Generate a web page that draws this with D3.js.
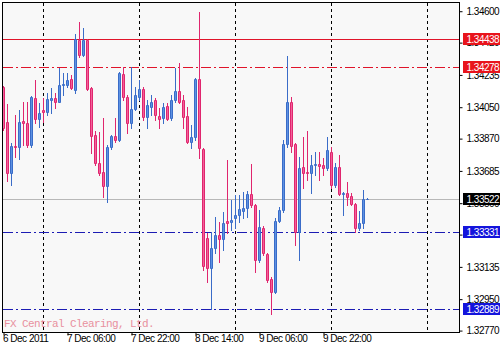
<!doctype html>
<html>
<head>
<meta charset="utf-8">
<script src="https://cdnjs.cloudflare.com/ajax/libs/d3/7.8.5/d3.min.js"></script>
<style>
body{margin:0;background:#fff;}
svg{display:block;}
.axis text{font-family:"Liberation Sans",Arial,sans-serif;font-size:10px;letter-spacing:-0.5px;fill:#000;}
.axis line{stroke:#000;}
.tag text{font-family:"Liberation Sans",Arial,sans-serif;font-size:10px;letter-spacing:-0.5px;fill:#fff;}
line.res, line.sup, line.bid{shape-rendering:crispEdges;}
</style>
</head>
<body>
<svg id="chart" width="500" height="350"></svg>
<script>
// EURUSD-ish H1 bars
var opens = [1.34163,1.33962,1.33670,1.33825,1.33819,1.33968,1.33957,1.33831,1.34100,1.33980,
  1.34031,1.34020,1.34089,1.34100,1.34077,1.34174,1.34174,1.34209,1.34146,1.34432,
  1.34346,1.34432,1.34157,1.33888,1.33728,1.33676,1.33596,1.33819,1.33882,1.33859,
  1.34238,1.34106,1.33957,1.34037,1.34106,1.34152,1.33991,1.34048,1.34089,1.33997,
  1.33985,1.34054,1.33985,1.34089,1.34140,1.34089,1.33997,1.33848,1.33877,1.34209,
  1.33808,1.33298,1.33126,1.33241,1.33315,1.33292,1.33395,1.33389,1.33412,1.33430,
  1.33453,1.33470,1.33550,1.33487,1.33172,1.33355,1.33206,1.33063,1.32988,1.33395,
  1.33458,1.33836,1.34077,1.33836,1.33332,1.33705,1.33676,1.33670,1.33716,1.33722,
  1.33716,1.33699,1.33791,1.33601,1.33705,1.33550,1.33556,1.33538,1.33493,1.33355,
  1.33384,1.33522];
var highs = [1.34169,1.34066,1.33842,1.34003,1.34031,1.34077,1.34077,1.34111,1.34203,1.34071,
  1.34100,1.34129,1.34157,1.34129,1.34272,1.34243,1.34243,1.34232,1.34467,1.34535,
  1.34501,1.34438,1.34163,1.33911,1.33905,1.33985,1.33831,1.33888,1.33985,1.34249,
  1.34278,1.34117,1.34278,1.34163,1.34203,1.34163,1.34089,1.34117,1.34100,1.34043,
  1.34071,1.34071,1.34117,1.34272,1.34300,1.34117,1.34048,1.33945,1.34215,1.34593,
  1.33814,1.33326,1.33332,1.33418,1.33389,1.33447,1.33745,1.33516,1.33544,1.33544,
  1.33561,1.33567,1.33722,1.33493,1.33458,1.33367,1.33212,1.33074,1.33412,1.33475,
  1.33859,1.34341,1.34106,1.33842,1.33762,1.33877,1.33911,1.33773,1.33791,1.33791,
  1.33756,1.33877,1.33819,1.33728,1.33773,1.33561,1.33619,1.33556,1.33498,1.33453,
  1.33573,1.33527];
var lows = [1.33917,1.33624,1.33601,1.33762,1.33750,1.33831,1.33819,1.33819,1.33957,1.33934,
  1.33962,1.34003,1.34014,1.34043,1.34077,1.34117,1.34163,1.34152,1.34129,1.34335,
  1.34341,1.34146,1.33785,1.33716,1.33659,1.33533,1.33504,1.33808,1.33848,1.33854,
  1.34089,1.33899,1.33928,1.34031,1.34089,1.33974,1.33928,1.34003,1.33974,1.33928,
  1.33957,1.33974,1.33974,1.34077,1.34071,1.33928,1.33842,1.33814,1.33859,1.33756,
  1.33114,1.33046,1.32889,1.33212,1.33160,1.33229,1.33326,1.33344,1.33355,1.33389,
  1.33412,1.33418,1.33475,1.33103,1.33160,1.33200,1.33046,1.32860,1.32983,1.33389,
  1.33447,1.33819,1.33791,1.33258,1.33172,1.33584,1.33630,1.33556,1.33659,1.33630,
  1.33659,1.33687,1.33584,1.33590,1.33544,1.33430,1.33487,1.33487,1.33332,1.33344,
  1.33355,1.33521];
var closes = [1.33928,1.33670,1.33825,1.33819,1.33962,1.33957,1.33831,1.34106,1.33980,1.34014,
  1.34020,1.34094,1.34100,1.34077,1.34174,1.34180,1.34203,1.34157,1.34438,1.34346,
  1.34432,1.34152,1.33882,1.33728,1.33670,1.33596,1.33819,1.33882,1.33859,1.34243,
  1.34106,1.33957,1.34037,1.34117,1.34152,1.33991,1.34060,1.34077,1.34003,1.33980,
  1.34048,1.33980,1.34089,1.34140,1.34077,1.33991,1.33848,1.33877,1.34209,1.33814,
  1.33137,1.33126,1.33241,1.33315,1.33292,1.33384,1.33384,1.33401,1.33430,1.33464,
  1.33470,1.33550,1.33487,1.33172,1.33361,1.33212,1.33057,1.32988,1.33395,1.33458,
  1.33836,1.34077,1.33825,1.33332,1.33699,1.33670,1.33670,1.33716,1.33722,1.33710,
  1.33699,1.33802,1.33601,1.33705,1.33550,1.33556,1.33533,1.33493,1.33355,1.33384,
  1.33521,1.33522];

var timeLabels = ["6 Dec 2011", "7 Dec 06:00", "7 Dec 22:00", "8 Dec 14:00", "9 Dec 06:00", "9 Dec 22:00"];
var timeLabelBars = [0, 16, 32, 48, 64, 80];
var separatorBars = [10, 34, 58, 82, 106];
var priceTicks = [1.34600, 1.34420, 1.34235, 1.34050, 1.33870, 1.33685, 1.33500, 1.33320, 1.33135, 1.32950, 1.32770];

var resistLevels = [1.34438, 1.34278];
var supportLevels = [1.33331, 1.32889];
var bidPrice = 1.33522;

var plotL = 2, plotT = 2, plotR = 459, plotB = 332;
var svg = d3.select("#chart");

var x = d3.scaleLinear().domain([0, 114]).range([plotL + 1.5, plotR + 0.5]);
var y = d3.scaleLinear().domain([1.32759, 1.34650]).range([plotB, plotT]);
function py(v){ return Math.round(y(v)) + 0.5; }

var bars = opens.map(function(o, i){
  return {i: i, o: o, h: highs[i], l: lows[i], c: closes[i]};
});

// plot area
svg.append("rect")
  .attr("x", plotL).attr("y", plotT)
  .attr("width", plotR - plotL).attr("height", plotB - plotT)
  .attr("fill", "#f8f8f8");

// day separators
svg.selectAll("line.sep")
  .data(separatorBars)
  .enter().append("line")
  .attr("class", "sep")
  .attr("x1", function(d){ return x(d); })
  .attr("x2", function(d){ return x(d); })
  .attr("y1", plotT + 1).attr("y2", plotB)
  .attr("stroke", "#000")
  .attr("stroke-dasharray", "3,3");

// bid line
svg.append("line")
  .attr("class", "bid")
  .attr("x1", plotL + 1).attr("x2", plotR)
  .attr("y1", py(bidPrice)).attr("y2", py(bidPrice))
  .attr("stroke", "#b8b8b8");

// red levels: first solid, second dash-dot
svg.selectAll("line.res")
  .data(resistLevels)
  .enter().append("line")
  .attr("class", "res")
  .attr("x1", plotL + 1).attr("x2", plotR)
  .attr("y1", function(d){ return py(d); })
  .attr("y2", function(d){ return py(d); })
  .attr("stroke", "#e0142a")
  .attr("stroke-dasharray", function(d, i){ return i === 0 ? null : "10,3,2,3"; });

svg.selectAll("line.sup")
  .data(supportLevels)
  .enter().append("line")
  .attr("class", "sup")
  .attr("x1", plotL + 1).attr("x2", plotR)
  .attr("y1", function(d){ return py(d); })
  .attr("y2", function(d){ return py(d); })
  .attr("stroke", "#1c1cb4")
  .attr("stroke-dasharray", "10,3,2,3");

// candles
function edge(d){ return d.c >= d.o ? "#3a6cc8" : "#e0266e"; }
function fill(d){ return d.c >= d.o ? "#5d92e2" : "#f2609a"; }

var g = svg.append("g");
g.selectAll("line.wick")
  .data(bars)
  .enter().append("line")
  .attr("class", "wick")
  .attr("x1", function(d){ return x(d.i); })
  .attr("x2", function(d){ return x(d.i); })
  .attr("y1", function(d){ return py(d.h) - 0.5; })
  .attr("y2", function(d){ return py(d.l) + 0.5; })
  .attr("stroke", edge);

g.selectAll("path.body")
  .data(bars)
  .enter().append("path")
  .attr("class", "body")
  .attr("d", function(d){
    var x0 = x(d.i) - 1, x1 = x(d.i) + 1;
    var y0 = py(Math.max(d.o, d.c)), y1 = py(Math.min(d.o, d.c));
    return "M" + x0 + "," + y0 + "H" + x1 + "V" + y1 + "H" + x0 + "Z";
  })
  .attr("fill", fill)
  .attr("stroke", edge);

// watermark
svg.append("text")
  .attr("x", 4).attr("y", 327)
  .attr("fill", "#e8909e")
  .style("font-family", "'Liberation Mono', 'Courier New', monospace")
  .style("font-size", "11px")
  .style("letter-spacing", "-0.6px")
  .text("FX Central Clearing, Ltd.");

// border
svg.append("rect")
  .attr("x", plotL + 0.5).attr("y", plotT + 0.5)
  .attr("width", plotR - plotL).attr("height", plotB - plotT)
  .attr("fill", "none").attr("stroke", "#000");

// axes
var yAxis = d3.axisRight(y)
  .tickValues(priceTicks)
  .tickFormat(d3.format(".5f"))
  .tickSize(3).tickPadding(4);
var ya = svg.append("g")
  .attr("class", "axis")
  .attr("transform", "translate(" + (plotR + 0.5) + ",0.5)")
  .call(yAxis);
ya.select(".domain").remove();

var xAxis = d3.axisBottom(x)
  .tickValues(timeLabelBars)
  .tickFormat(function(d, i){ return timeLabels[i]; })
  .tickSize(3);
var xa = svg.append("g")
  .attr("class", "axis")
  .attr("transform", "translate(0," + (plotB + 0.5) + ")")
  .call(xAxis);
xa.select(".domain").remove();
xa.selectAll("text")
  .attr("text-anchor", "start")
  .attr("x", -1).attr("y", 9).attr("dy", 0);

// price tags on the axis
var tags = [
  {v: resistLevels[0], c: "#e8141c"},
  {v: resistLevels[1], c: "#e8141c"},
  {v: bidPrice, c: "#000"},
  {v: supportLevels[0], c: "#1414dc"},
  {v: supportLevels[1], c: "#1414dc"}
];
var tg = svg.selectAll("g.tag")
  .data(tags)
  .enter().append("g")
  .attr("class", "tag")
  .attr("transform", function(d){ return "translate(463," + Math.round(y(d.v)) + ")"; });
tg.append("rect")
  .attr("x", 0).attr("y", -6)
  .attr("width", 37).attr("height", 12)
  .attr("fill", function(d){ return d.c; });
tg.append("text")
  .attr("x", 3.5).attr("y", 4)
  .text(function(d){ return d3.format(".5f")(d.v); });
</script>
</body>
</html>
